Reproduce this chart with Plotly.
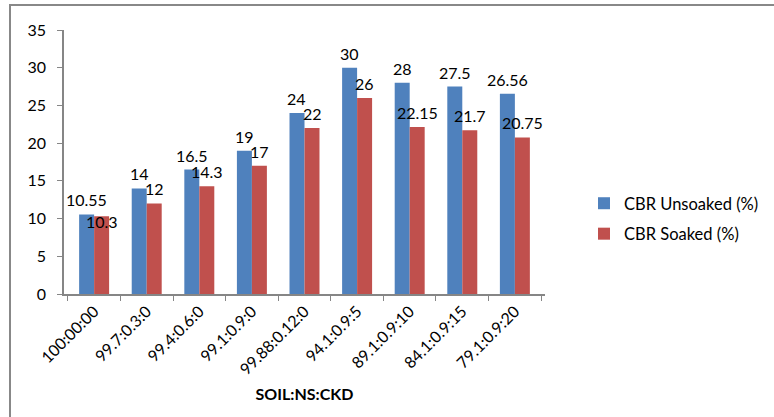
import plotly.graph_objects as go

# CBR results for each SOIL:NS:CKD mix
mixes = ["100:00:00", "99.7:0.3:0", "99.4:0.6:0", "99.1:0.9:0", "99.88:0.12:0",
         "94.1:0.9:5", "89.1:0.9:10", "84.1:0.9:15", "79.1:0.9:20"]
cbr_unsoaked = [10.55, 14, 16.5, 19, 24, 30, 28, 27.5, 26.56]
cbr_soaked = [10.3, 12, 14.3, 17, 22, 26, 22.15, 21.7, 20.75]
unsoaked_text = ["10.55", "14", "16.5", "19", "24", "30", "28", "27.5", "26.56"]
soaked_text = ["10.3", "12", "14.3", "17", "22", "26", "22.15", "21.7", "20.75"]

FONT = "Lato"
W, H = 774, 417
L, R, T, B = 64, 229, 30, 123
Y_MAX = 35

fig = go.Figure()
fig.add_trace(go.Bar(
    x=mixes, y=cbr_unsoaked, name="CBR Unsoaked (%)",
    marker=dict(color="#4F81BD", line=dict(width=0)),
    legendgroup="a",
))
fig.add_trace(go.Bar(
    x=mixes, y=cbr_soaked, name="CBR Soaked (%)",
    marker=dict(color="#C0504D", line=dict(width=0)),
    legendgroup="b",
))

pw = W - L - R
ph = H - T - B
px_per_unit = ph / Y_MAX

def px_x(p):
    return (p - L) / pw

def px_y(p):
    return (H - B - p) / ph

# value labels sit a little above each bar, centred on it; when a soaked
# label would sit level with the unsoaked one beside it, it drops below it
LABEL_SIZE = 16
LABEL_GAP = 3
LABEL_BOX = 21
GLYPH_H = 12
cat_w = pw / len(mixes)
bar_w = cat_w * (1 - 0.43) / 2
annotations = []
for cat, u_val, u_lab, s_val, s_lab in zip(mixes, cbr_unsoaked, unsoaked_text,
                                           cbr_soaked, soaked_text):
    annotations.append(dict(
        x=cat, y=u_val, xref="x", yref="y", text=u_lab, showarrow=False,
        xanchor="center", yanchor="bottom", xshift=-bar_w / 2, yshift=LABEL_GAP,
        font=dict(family=FONT, size=LABEL_SIZE, color="#000000"),
    ))
    s_shift = LABEL_GAP
    if (u_val - s_val) * px_per_unit < GLYPH_H:
        s_shift = (u_val - s_val) * px_per_unit + LABEL_GAP - LABEL_BOX - 1
    annotations.append(dict(
        x=cat, y=s_val, xref="x", yref="y", text=s_lab, showarrow=False,
        xanchor="center", yanchor="bottom", xshift=bar_w / 2, yshift=s_shift,
        font=dict(family=FONT, size=LABEL_SIZE, color="#000000"),
    ))

fig.update_layout(
    width=W, height=H,
    margin=dict(l=L, r=R, t=T, b=B, autoexpand=False),
    paper_bgcolor="white", plot_bgcolor="white",
    font=dict(family=FONT, size=15, color="#000000"),
    barmode="group", bargap=0.43, bargroupgap=0,
    showlegend=True,
    legend=dict(
        x=px_x(584), y=px_y(186), xanchor="left", yanchor="top",
        font=dict(family=FONT, size=16.5), traceorder="grouped",
        tracegroupgap=6, bgcolor="rgba(0,0,0,0)",
    ),
    xaxis=dict(
        showline=True, linecolor="#868686", linewidth=1.5,
        ticks="outside", tickson="boundaries", ticklen=5, tickcolor="#868686",
        tickangle=-45, tickfont=dict(family=FONT, size=16),
        showgrid=False, zeroline=False,
        title=dict(text="<b>SOIL:NS:CKD</b>", font=dict(family=FONT, size=16), standoff=12),
    ),
    yaxis=dict(
        range=[0, Y_MAX], tick0=0, dtick=5,
        showline=True, linecolor="#868686", linewidth=1.5,
        ticks="outside", ticklen=5, tickcolor="#868686",
        tickfont=dict(family=FONT, size=16), ticklabelstandoff=8,
        showgrid=False, zeroline=False,
    ),
    annotations=annotations,
    shapes=[dict(
        type="rect", xref="paper", yref="paper",
        x0=px_x(10), x1=px_x(800), y0=px_y(440), y1=px_y(5),
        line=dict(color="#888888", width=2), fillcolor="rgba(0,0,0,0)",
        layer="below",
    )],
)

fig.write_html("out.html")
